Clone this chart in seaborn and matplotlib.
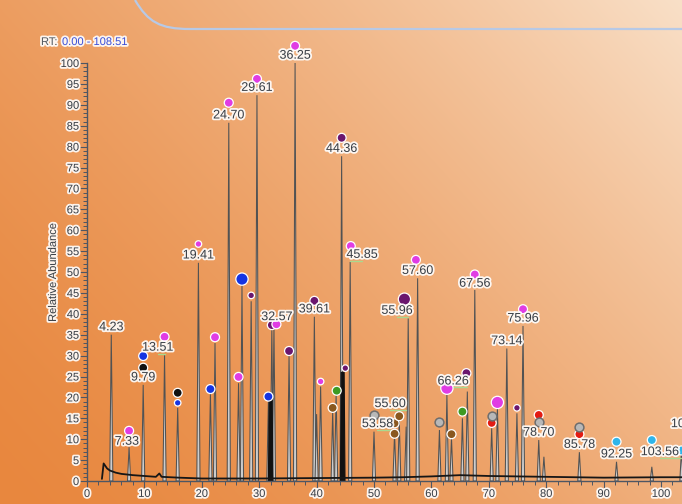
import numpy as np
import pandas as pd
import matplotlib
matplotlib.use("Agg")
import matplotlib.pyplot as plt
import matplotlib.patheffects as pe
from matplotlib.path import Path
from matplotlib.patches import PathPatch
from matplotlib.ticker import MultipleLocator
import seaborn as sns

sns.set_theme(style="white")
plt.rcParams["font.family"] = ["Liberation Sans", "DejaVu Sans"]

# ---- chromatogram data -------------------------------------------------
# peak apex: retention time (min) and relative abundance (%)
peak_times = [4.23, 7.33, 9.79, 13.51, 15.80, 19.41, 21.50, 22.30, 24.70,
              26.40, 27.00, 28.60, 29.61, 31.60, 32.20, 32.57, 35.20, 36.25,
              39.61, 40.00, 40.70, 42.80, 43.40, 44.36, 45.85, 50.00, 53.58,
              54.40, 55.60, 55.96, 57.60, 61.40, 62.70, 63.50, 65.40, 66.26,
              67.56, 70.50, 71.50, 73.14, 74.90, 75.96, 78.70, 79.60, 85.78,
              92.25, 98.40, 103.56, 105.05]
peak_heights = [35.0, 8.1, 23.0, 30.1, 17.5, 52.2, 21.0, 33.0, 85.7,
                23.4, 47.0, 43.0, 92.3, 19.0, 36.5, 37.0, 30.1, 100.0,
                39.3, 16.0, 22.6, 16.6, 21.0, 77.7, 52.4, 11.8, 11.5,
                14.6, 13.0, 38.9, 48.5, 12.2, 20.6, 10.3, 15.0, 21.4,
                45.7, 12.6, 17.8, 31.7, 16.2, 37.1, 9.8, 5.8, 6.9,
                4.6, 3.4, 7.4, 11.5]

# peaks carrying a retention-time label
labeled_times = [4.23, 7.33, 9.79, 13.51, 19.41, 24.70, 29.61, 32.57, 36.25,
                 39.61, 44.36, 45.85, 53.58, 55.60, 55.96, 57.60, 66.26,
                 67.56, 73.14, 75.96, 78.70, 85.78, 92.25, 103.56, 105.05]

# unresolved co-eluting clusters (time, height)
cluster_times = [32.00, 44.55]
cluster_heights = [20.0, 26.0]

# baseline trace
base_t = [2.6, 2.9, 3.5, 4.0, 5.0, 6.0, 8.0, 10.0, 12.0, 12.6, 13.0, 16.0,
          20.0, 25.0, 30.0, 40.0, 50.0, 55.0, 60.0, 65.0, 70.0, 75.0, 80.0,
          90.0, 100.0, 108.5]
base_v = [0.5, 4.2, 3.0, 2.5, 2.0, 1.7, 1.4, 1.2, 1.0, 1.8, 1.0, 0.8,
          0.6, 0.6, 0.6, 0.7, 0.8, 0.9, 1.1, 1.4, 1.2, 1.1, 1.0,
          0.8, 0.9, 0.9]

# compound-class markers
marker_t = [7.33, 9.79, 9.79, 13.51, 15.80, 15.80, 19.41, 21.50, 22.30, 24.70,
            26.40, 27.00, 28.60, 29.61, 31.60, 32.20, 33.00, 35.20, 36.25,
            39.61, 40.70, 42.80, 43.50, 44.36, 45.00, 45.95, 50.00, 53.58,
            53.58, 54.40, 55.30, 57.30, 61.40, 62.70, 63.50, 65.40, 66.10,
            67.56, 70.50, 70.50, 71.50, 74.90, 75.96, 78.70, 78.70, 85.78,
            85.78, 92.25, 98.40, 103.56]
marker_v = [12.0, 29.9, 27.1, 34.5, 21.1, 18.7, 56.7, 22.0, 34.4, 90.5,
            24.9, 48.3, 44.4, 96.2, 20.2, 37.3, 37.5, 31.1, 104.1,
            43.1, 23.8, 17.5, 21.6, 82.1, 27.0, 56.2, 15.8, 13.8,
            11.3, 15.5, 43.5, 52.9, 14.0, 22.2, 11.2, 16.6, 25.8,
            49.4, 15.6, 13.9, 18.8, 17.5, 41.1, 15.8, 14.0, 12.8,
            11.2, 9.4, 9.8, 7.3]
marker_class = ["magenta", "blue", "black", "magenta", "black", "blue", "magenta",
                "blue", "magenta", "magenta", "magenta", "blue", "purple",
                "magenta", "blue", "purple", "magenta", "purple", "magenta",
                "purple", "magenta", "brown", "green", "purple", "purple",
                "magenta", "gray", "brown", "brown", "brown", "purple",
                "magenta", "gray", "magenta", "brown", "green", "purple",
                "magenta", "gray", "red", "magenta", "purple", "magenta",
                "red", "gray", "gray", "red", "cyan", "cyan", "cyan"]
marker_size = ["m", "m", "m", "m", "m", "s", "s", "m", "m", "m",
               "m", "l", "s", "m", "m", "m", "m", "m", "m",
               "m", "s", "m", "m", "m", "s", "m", "m", "m",
               "m", "m", "l", "m", "m", "l", "m", "m", "m",
               "m", "m", "m", "l", "s", "m", "m", "m", "m",
               "m", "m", "m", "m"]

# ---- styling / layout ---------------------------------------------------
palette = {"magenta": "#e03ce4", "blue": "#1534e2", "black": "#111111",
           "purple": "#6a166e", "green": "#3d9a22", "brown": "#8a581f",
           "gray": "#b8b8b8", "red": "#e31b12", "cyan": "#2fb5ea"}
size_map = {"s": 22, "m": 42, "l": 78}
label_offsets = {7.33: (-0.4, 1.3), 13.51: (-1.2, 1.8), 32.57: (0.5, 2.2),
                 45.85: (2.05, 1.7), 53.58: (-3.0, 2.1), 55.60: (-2.8, 5.4),
                 55.96: (-1.96, 1.8), 66.26: (-2.46, 2.4), 67.56: (0, 1.5),
                 103.56: (-3.76, -0.5), 105.05: (0, 2.1)}
halo = [pe.withStroke(linewidth=2.6, foreground="white", alpha=0.9)]
text_color = "#3a3e44"
axis_color = "#4e5663"

W, H = 682, 504
fig = plt.figure(figsize=(W / 100, H / 100), dpi=100)

# diagonal orange-to-peach background
yy, xx = np.mgrid[0:H, 0:W]
s = (0.6 * xx / W + 0.4 * (1 - yy / H)) ** 1.5
c0 = np.array([232, 135, 62]) / 255
c1 = np.array([249, 224, 200]) / 255
bg = fig.add_axes([0, 0, 1, 1], zorder=-10)
bg.imshow(c0 + (c1 - c0) * s[..., None], aspect="auto", extent=[0, 1, 0, 1],
          origin="upper")
bg.axis("off")

# rounded panel edge along the top
verts = [(135, 0), (148, 22), (160, 29), (190, 29), (W + 5, 29)]
verts = [(x / W, 1 - y / H) for x, y in verts]
codes = [Path.MOVETO, Path.CURVE4, Path.CURVE4, Path.CURVE4, Path.LINETO]
fig.patches.append(PathPatch(Path(verts, codes), transform=fig.transFigure,
                             fill=False, edgecolor="#b7c9e6", lw=1.6))

px_per_min = 5.74
xmax = 108.51
ax = fig.add_axes([87 / W, 23 / H, xmax * px_per_min / W, 418 / H])
ax.patch.set_alpha(0)
ax.set_xlim(0, xmax)
ax.set_ylim(0, 100)

# peaks as narrow triangles
w = 0.28
for t, h in zip(peak_times, peak_heights):
    ax.fill([t - w, t, t + w], [0, h, 0], facecolor="#cdcdcd",
            edgecolor="#525252", lw=0.75, zorder=2, clip_on=False)
for t, h in zip(cluster_times, cluster_heights):
    ax.fill([t - 0.4, t - 0.25, t + 0.25, t + 0.4], [0, h, h, 0],
            facecolor="#111111", edgecolor="#111111", lw=0.8, zorder=2)

base_df = pd.DataFrame({"t": base_t, "v": base_v})
sns.lineplot(data=base_df, x="t", y="v", ax=ax, color="#161616", lw=1.3,
             zorder=3, sort=True)

mk = pd.DataFrame({"t": marker_t, "v": marker_v, "cls": marker_class,
                   "sz": marker_size})
solid = mk[mk["cls"] != "gray"]
grey = mk[mk["cls"] == "gray"]
sns.scatterplot(data=solid, x="t", y="v", hue="cls", palette=palette,
                size="sz", sizes=size_map, edgecolor="white", linewidth=0.9,
                legend=False, ax=ax, zorder=5, clip_on=False)
sns.scatterplot(data=grey, x="t", y="v", color=palette["gray"], s=40,
                edgecolor="#6e6e6e", linewidth=1.1, legend=False, ax=ax,
                zorder=5, clip_on=False)

# retention-time labels
heights = dict(zip(peak_times, peak_heights))
for t in labeled_times:
    h = heights[t]
    dt, dv = label_offsets.get(t, (0, 1.75))
    ax.text(t + dt, h + dv, f"{t:.2f}", ha="center", va="center", fontsize=9,
            color=text_color, path_effects=halo, zorder=6, clip_on=False)
    if abs(dt) > 1:
        ax.plot([t + dt, t], [h + dv - 1.4, h + dv - 1.4], color="#a9d98f",
                lw=1, zorder=4, clip_on=False)

# axes styling
for side in ["top", "right"]:
    ax.spines[side].set_visible(False)
for side in ["left", "bottom"]:
    ax.spines[side].set_color(axis_color)
    ax.spines[side].set_linewidth(1.0)
ax.yaxis.set_major_locator(MultipleLocator(5))
ax.yaxis.set_minor_locator(MultipleLocator(1))
ax.xaxis.set_major_locator(MultipleLocator(10))
ax.xaxis.set_minor_locator(MultipleLocator(2))
ax.tick_params(axis="both", which="major", direction="out", length=4.7,
               width=0.8, color=axis_color, labelsize=8, labelcolor=text_color,
               pad=1, left=True, bottom=True)
ax.tick_params(axis="both", which="minor", direction="out", length=2.6,
               width=0.7, color=axis_color, left=True, bottom=True)
ax.set_yticks(range(0, 101, 5))
ax.set_xticks(range(0, 101, 10))
for lab in ax.get_xticklabels() + ax.get_yticklabels():
    lab.set_path_effects(halo)
ax.set_xlabel("")
ax.set_ylabel("Relative Abundance", fontsize=8, color=text_color,
              path_effects=halo)
ax.yaxis.set_label_coords(-0.0466, 0.5)

fig.text(41 / W, 1 - 42 / H, "RT:", fontsize=8, color="#555a60",
         va="center", ha="left", path_effects=halo)
fig.text(62 / W, 1 - 42 / H, "0.00 - 108.51", fontsize=8, color="#3d4fd6",
         va="center", ha="left", path_effects=halo)

fig.savefig("out.png", dpi=100)
